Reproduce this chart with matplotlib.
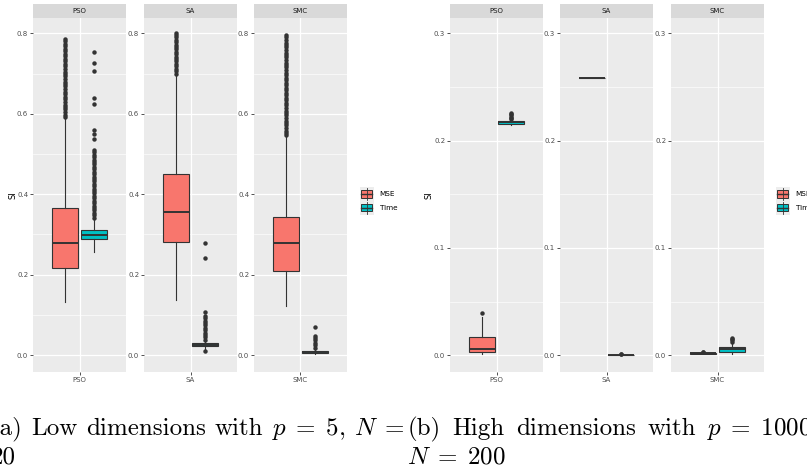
import matplotlib
matplotlib.use("Agg")
import matplotlib.pyplot as plt
from matplotlib.patches import Rectangle

plt.rcParams['mathtext.fontset'] = 'cm'
plt.rcParams['font.family'] = ['DejaVu Sans']

W, H = 807, 472

methods = ["PSO", "SA", "SMC"]
series = ["MSE", "Time"]
colors = ["#F8766D", "#00BFC4"]

# each row: whislo, q1, med, q3, whishi  (one row per method)
low_mse_stats = [
    [0.131, 0.216, 0.280, 0.365, 0.589],
    [0.136, 0.281, 0.355, 0.450, 0.696],
    [0.122, 0.210, 0.278, 0.344, 0.543],
]
low_time_stats = [
    [0.257, 0.288, 0.298, 0.311, 0.339],
    [0.016, 0.022, 0.026, 0.031, 0.036],
    [0.002, 0.006, 0.008, 0.011, 0.017],
]
low_mse_fliers = [
    [0.592, 0.598, 0.604, 0.611, 0.617, 0.623, 0.630, 0.636, 0.641, 0.648,
     0.655, 0.661, 0.668, 0.674, 0.680, 0.686, 0.693, 0.699, 0.705, 0.711,
     0.718, 0.724, 0.731, 0.737, 0.743, 0.749, 0.755, 0.762, 0.768, 0.774,
     0.781, 0.786],
    [0.700, 0.706, 0.712, 0.718, 0.724, 0.730, 0.736, 0.742, 0.748, 0.754,
     0.760, 0.766, 0.772, 0.778, 0.784, 0.790, 0.796, 0.800],
    [0.546, 0.552, 0.558, 0.565, 0.571, 0.577, 0.583, 0.590, 0.596, 0.602,
     0.608, 0.615, 0.621, 0.627, 0.633, 0.640, 0.646, 0.652, 0.658, 0.665,
     0.671, 0.677, 0.683, 0.690, 0.696, 0.702, 0.708, 0.715, 0.721, 0.727,
     0.733, 0.740, 0.746, 0.752, 0.758, 0.765, 0.771, 0.777, 0.783, 0.790,
     0.795],
]
low_time_fliers = [
    [0.342, 0.348, 0.354, 0.360, 0.366, 0.372, 0.378, 0.384, 0.390, 0.396,
     0.402, 0.408, 0.414, 0.420, 0.426, 0.432, 0.438, 0.444, 0.450, 0.456,
     0.462, 0.468, 0.474, 0.480, 0.486, 0.492, 0.498, 0.504, 0.510, 0.537,
     0.549, 0.560, 0.624, 0.638, 0.707, 0.725, 0.754],
    [0.0115, 0.038, 0.044, 0.050, 0.056, 0.062, 0.068, 0.074, 0.080, 0.086,
     0.092, 0.098, 0.108, 0.242, 0.280],
    [0.019, 0.025, 0.031, 0.037, 0.043, 0.048, 0.070],
]

high_mse_stats = [
    [0.0012, 0.0028, 0.0062, 0.0168, 0.0354],
    [0.2582, 0.2582, 0.2582, 0.2582, 0.2582],
    [0.0012, 0.0015, 0.0018, 0.0021, 0.0024],
]
high_time_stats = [
    [0.2144, 0.2158, 0.2170, 0.2182, 0.2196],
    [0.0002, 0.0004, 0.0005, 0.0007, 0.0009],
    [0.0010, 0.0035, 0.0058, 0.0080, 0.0112],
]
high_mse_fliers = [
    [0.039],
    [],
    [0.0028, 0.0030],
]
high_time_fliers = [
    [0.2200, 0.2212, 0.2225, 0.2237, 0.2249, 0.2261],
    [0.0008, 0.0012],
    [0.0128, 0.0140, 0.0152, 0.0164],
]

# caption first lines are justified, second lines are plain
cap_a_words = ["(a)", "Low", "dimensions", "with", r"$p\;=\;5$,", r"$N\;=$"]
cap_b_words = ["(b)", "High", "dimensions", "with", r"$p\;=\;1000$"]


def px_axes(fig, x0, y0, x1, y1):
    return fig.add_axes([x0 / W, 1 - y1 / H, (x1 - x0) / W, (y1 - y0) / H])


def to_bxp(row, fliers):
    lo, q1, med, q3, hi = row
    return dict(whislo=lo, q1=q1, med=med, q3=q3, whishi=hi, fliers=fliers)


def draw_panel(ax, name, i, stats, fliers, ylim, major, minor):
    ax.set_facecolor("#EBEBEB")
    for s in ax.spines.values():
        s.set_visible(False)
    ax.set_xlim(0.4, 1.6)
    ax.set_ylim(*ylim)
    ax.set_yticks(major)
    ax.set_yticks(minor, minor=True)
    ax.set_yticklabels([f"{v:.1f}" for v in major])
    ax.set_xticks([1])
    ax.set_xticklabels([name])
    ax.grid(which="major", color="white", lw=0.9)
    ax.grid(which="minor", axis="y", color="white", lw=0.45)
    ax.set_axisbelow(True)
    ax.tick_params(which="major", labelsize=5, colors="#333333",
                   labelcolor="#4D4D4D", length=2, width=0.6, pad=1.5)
    ax.tick_params(which="minor", length=0)

    for k, (st, fl, c) in enumerate(zip(stats, fliers, colors)):
        pos = 1 - 0.1875 if k == 0 else 1 + 0.1875
        ax.bxp([to_bxp(st[i], fl[i])], positions=[pos], widths=0.34,
               patch_artist=True, showcaps=False, manage_ticks=False,
               boxprops=dict(facecolor=c, edgecolor="#333333", lw=0.8),
               medianprops=dict(color="#333333", lw=1.4),
               whiskerprops=dict(color="#333333", lw=0.8),
               flierprops=dict(marker="o", markerfacecolor="#333333",
                               markeredgecolor="none", markersize=3.2))


def draw_strip(fig, x0, x1, name):
    sa = px_axes(fig, x0, 4, x1, 18)
    sa.set_facecolor("#D9D9D9")
    sa.set_xticks([])
    sa.set_yticks([])
    for s in sa.spines.values():
        s.set_visible(False)
    sa.text(0.5, 0.5, name, ha="center", va="center", fontsize=5,
            color="#1A1A1A", transform=sa.transAxes)


def draw_legend(fig, x0, y0):
    la = px_axes(fig, x0, y0, x0 + 60, y0 + 28)
    la.set_xlim(x0, x0 + 60)
    la.set_ylim(y0 + 28, y0)
    la.axis("off")
    la.add_patch(Rectangle((x0, y0), 14, 28, facecolor="#EDEDED", edgecolor="none"))
    for k, (lab, c) in enumerate(zip(series, colors)):
        yc = y0 + 7.5 + 13.5 * k
        la.plot([x0 + 7, x0 + 7], [yc - 6, yc + 6], color="#333333", lw=0.6)
        la.add_patch(Rectangle((x0 + 1.7, yc - 3.7), 10.6, 7.4, facecolor=c,
                               edgecolor="#333333", lw=0.7))
        la.plot([x0 + 1.7, x0 + 12.3], [yc, yc], color="#333333", lw=1.0)
        la.text(x0 + 20, yc, lab, ha="left", va="center", fontsize=5.2,
                color="black", clip_on=False)


def justified_line(fig, words, x_start, x_end, y, **kw):
    texts = [fig.text(0, 1 - y / H, w, **kw) for w in words]
    r = fig.canvas.get_renderer()
    widths = [t.get_window_extent(r).width for t in texts]
    gap = (x_end - x_start - sum(widths)) / (len(words) - 1)
    x = x_start
    for t, w in zip(texts, widths):
        t.set_x(x / W)
        x += w + gap


fig = plt.figure(figsize=(W / 100, H / 100), dpi=100)

low_x = [(33, 126), (144, 237), (254, 347)]
high_x = [(450, 543), (560, 653), (671, 764)]

for i, name in enumerate(methods):
    x0, x1 = low_x[i]
    ax = px_axes(fig, x0, 18, x1, 371.7)
    draw_panel(ax, name, i, [low_mse_stats, low_time_stats],
               [low_mse_fliers, low_time_fliers], (-0.041, 0.838),
               [0.0, 0.2, 0.4, 0.6, 0.8], [0.1, 0.3, 0.5, 0.7])
    draw_strip(fig, x0, x1, name)

    x0, x1 = high_x[i]
    ax = px_axes(fig, x0, 18, x1, 371.7)
    draw_panel(ax, name, i, [high_mse_stats, high_time_stats],
               [high_mse_fliers, high_time_fliers], (-0.0153, 0.3143),
               [0.0, 0.1, 0.2, 0.3], [0.05, 0.15, 0.25])
    draw_strip(fig, x0, x1, name)

fig.text(13 / W, 1 - 195 / H, "SI", rotation=90, ha="center", va="center",
         fontsize=6, color="black")
fig.text(429 / W, 1 - 195 / H, "SI", rotation=90, ha="center", va="center",
         fontsize=6, color="black")

draw_legend(fig, 359.5, 186.5)
draw_legend(fig, 775.5, 186.5)

cap = dict(fontsize=18, family="cmr10", va="baseline", ha="left", color="black")
justified_line(fig, cap_a_words, -9.7, 405, 435, **cap)
justified_line(fig, cap_b_words, 407.7, 812, 435, **cap)
fig.text(-9 / W, 1 - 464 / H, "20", **cap)
fig.text(407 / W, 1 - 464 / H, r"$N\;=\;200$", **cap)

fig.savefig("out.png", dpi=100)
